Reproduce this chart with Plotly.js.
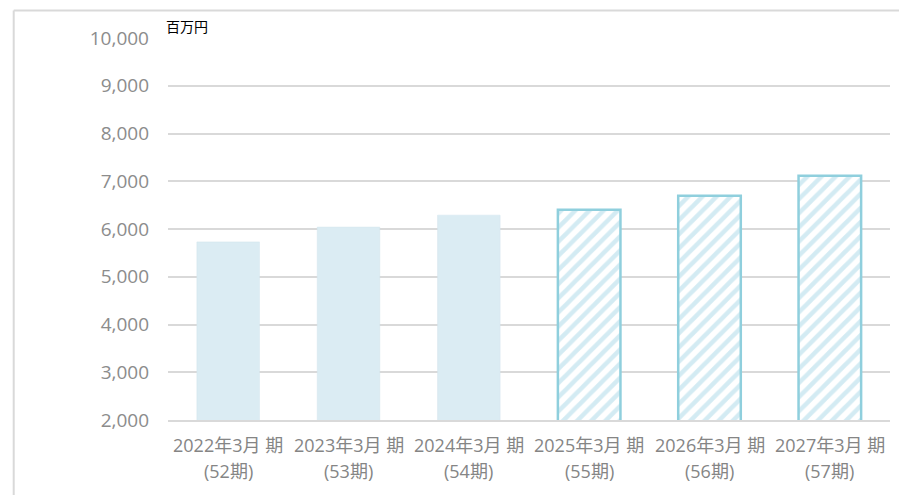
<!DOCTYPE html>
<html>
<head>
<meta charset="utf-8">
<script src="https://cdn.plot.ly/plotly-3.0.1.min.js"></script>
<style>
html,body{margin:0;padding:0;background:#fff;}
#chart{width:899px;height:495px;}
</style>
</head>
<body>
<div id="chart"></div>
<script>
const categories = ["2022年3月 期","2023年3月 期","2024年3月 期","2025年3月 期","2026年3月 期","2027年3月 期"];
const termLabels = ["(52期)","(53期)","(54期)","(55期)","(56期)","(57期)"];
const actualValues = [5730, 6040, 6290, null, null, null];
const planValues = [null, null, null, 6405, 6695, 7115];
const yTickVals = [2000,3000,4000,5000,6000,7000,8000,9000,10000];
const yTickText = ["2,000","3,000","4,000","5,000","6,000","7,000","8,000","9,000","10,000"];
const unitLabel = "百万円";

const font = '"Open Sans", "Noto Sans CJK JP", sans-serif';
const labelColor = '#858585';

const traces = [
  {
    type: 'bar', x: categories, y: actualValues,
    marker: {color: '#dbecf3', line: {color: '#d2e5ed', width: 0.5}},
    hoverinfo: 'skip'
  },
  {
    type: 'bar', x: categories, y: planValues,
    marker: {
      color: '#ffffff',
      line: {color: '#8fcfdd', width: 2.5},
      pattern: {shape: '/', fgcolor: '#d3ebf3', bgcolor: '#ffffff', size: 10, solidity: 0.45}
    },
    hoverinfo: 'skip'
  }
];

const annotations = [
  {text: unitLabel, xref: 'paper', yref: 'paper', x: -0.005, y: 1.0, xanchor: 'left', yanchor: 'bottom',
   yshift: 0, showarrow: false, font: {size: 14, color: '#000000', family: font}}
];
categories.forEach((c, i) => {
  annotations.push({text: c, xref: 'x', yref: 'paper', x: c, y: -0.066, xanchor: 'center', yanchor: 'middle',
    showarrow: false, font: {size: 18, color: labelColor, family: font}});
  annotations.push({text: termLabels[i], xref: 'x', yref: 'paper', x: c, y: -0.134, xanchor: 'center', yanchor: 'middle',
    showarrow: false, font: {size: 18, color: labelColor, family: font}});
});

const layout = {
  width: 899, height: 495,
  margin: {l: 168, r: 9, t: 38, b: 75},
  paper_bgcolor: '#ffffff', plot_bgcolor: '#ffffff',
  barmode: 'overlay',
  bargap: 0.48,
  showlegend: false,
  font: {family: font, color: labelColor},
  xaxis: {
    type: 'category',
    showticklabels: false,
    showgrid: false, zeroline: false,
    showline: true, linecolor: '#d9d9d9', linewidth: 2,
    ticks: '', fixedrange: true
  },
  yaxis: {
    range: [2000, 10000],
    tickvals: yTickVals, ticktext: yTickText,
    tickfont: {size: 19, color: '#8c8c8c', family: font},
    showgrid: true, gridcolor: '#d9d9d9', gridwidth: 2,
    zeroline: false, showline: false, ticks: '',
    ticklabelstandoff: 18,
    fixedrange: true
  },
  annotations: annotations,
  shapes: [
    {type: 'line', xref: 'paper', yref: 'paper', x0: -0.2137, x1: -0.2137, y0: 1.072, y1: -0.3, line: {color: '#d9d9d9', width: 2}},
    {type: 'line', xref: 'paper', yref: 'paper', x0: -0.2137, x1: 1.02, y0: 1.072, y1: 1.072, line: {color: '#d9d9d9', width: 2}}
  ]
};

Plotly.newPlot('chart', traces, layout, {displayModeBar: false, staticPlot: true});
</script>
</body>
</html>
